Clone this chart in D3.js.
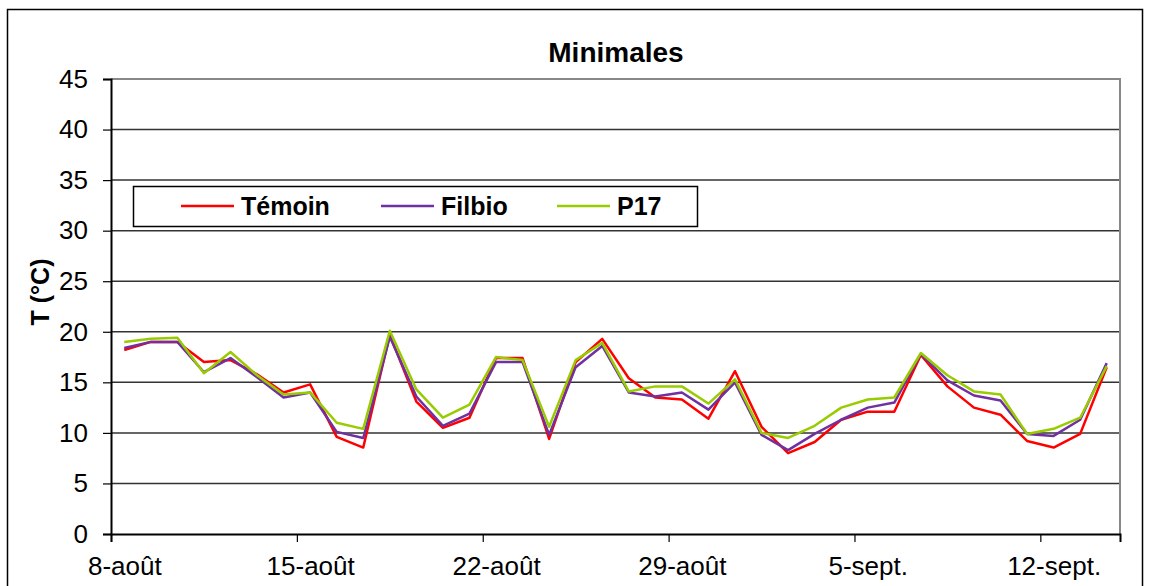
<!DOCTYPE html>
<html>
<head>
<meta charset="utf-8">
<script src="https://cdn.jsdelivr.net/npm/d3@7"></script>
<style>
  body { margin: 0; background: #fff; }
  svg { display: block; font-family: "Liberation Sans", Arial, sans-serif; }
</style>
</head>
<body>
<svg id="chart" width="1152" height="586"></svg>
<script>
// daily minima, 8-août .. 14-sept.
const temoin = [18.2, 19.0, 19.0, 17.0, 17.2, 15.8, 14.0, 14.8, 9.6, 8.55,
  19.7, 13.1, 10.5, 11.5, 17.4, 17.4, 9.4, 17.0, 19.3, 15.4,
  13.5, 13.3, 11.4, 16.1, 10.6, 8.0, 9.1, 11.3, 12.1, 12.1,
  17.7, 14.6, 12.5, 11.8, 9.2, 8.55, 9.9, 16.5];
const filbio = [18.4, 19.0, 19.0, 16.0, 17.4, 15.5, 13.5, 14.0, 10.1, 9.5,
  19.5, 13.6, 10.7, 11.9, 17.0, 17.0, 9.8, 16.5, 18.6, 14.0,
  13.6, 14.0, 12.3, 15.0, 9.8, 8.3, 9.9, 11.3, 12.5, 13.0,
  17.8, 15.2, 13.7, 13.2, 9.9, 9.7, 11.3, 16.9];
const p17 = [19.0, 19.3, 19.4, 15.9, 18.0, 15.7, 13.8, 14.0, 11.0, 10.4,
  20.1, 14.3, 11.5, 12.8, 17.5, 17.2, 10.6, 17.2, 18.9, 14.1,
  14.6, 14.6, 12.9, 15.3, 10.0, 9.5, 10.7, 12.5, 13.3, 13.5,
  17.9, 15.7, 14.1, 13.8, 9.9, 10.4, 11.5, 16.6];
const seriesNames = ["Témoin", "Filbio", "P17"];
const seriesColors = ["#ff0000", "#7030a0", "#99cc00"];
const xTickPos = [0, 7, 14, 21, 28, 35];
const xTickLabels = ["8-août", "15-août", "22-août", "29-août", "5-sept.", "12-sept."];
const yTicks = [0, 5, 10, 15, 20, 25, 30, 35, 40, 45];

const svg = d3.select("#chart");
const plotL = 111, plotR = 1120, plotT = 79, plotB = 534;
const FONT = "Liberation Sans, Arial, sans-serif";

// outer frame
svg.append("rect").attr("x", 7.5).attr("y", 9.5).attr("width", 1135).attr("height", 600)
  .attr("fill", "none").attr("stroke", "#000").attr("stroke-width", 1.5);

const x = d3.scaleLinear().domain([0, temoin.length]).range([plotL, plotR]);
const y = d3.scaleLinear().domain([0, 45]).range([plotB, plotT]);

// gridlines
svg.append("g").selectAll("line").data(yTicks.filter(d => d > 0 && d < 45)).enter()
  .append("line")
  .attr("x1", plotL).attr("x2", plotR)
  .attr("y1", d => y(d)).attr("y2", d => y(d))
  .attr("stroke", "#333").attr("stroke-width", 1.5);

// plot area border (top + right, gray)
svg.append("path")
  .attr("d", `M${plotL},${y(45)}H${plotR}V${plotB}`)
  .attr("fill", "none").attr("stroke", "#888").attr("stroke-width", 2);

// y axis
const yAxis = svg.append("g").attr("transform", `translate(${plotL},0)`)
  .call(d3.axisLeft(y).tickValues(yTicks).tickSize(8).tickPadding(15));
yAxis.select(".domain").attr("stroke", "#000").attr("stroke-width", 2);
yAxis.selectAll(".tick line").attr("stroke", "#000").attr("stroke-width", 1.2);
yAxis.selectAll("text").attr("font-size", 26).attr("fill", "#000").attr("font-family", FONT);

// x axis (labels sit in the middle of the day, ticks between days)
const xAxis = svg.append("g").attr("transform", `translate(0,${plotB})`)
  .call(d3.axisBottom(x).tickValues(xTickPos).tickFormat((d, i) => xTickLabels[i])
    .tickSizeOuter(0).tickSize(8).tickPadding(15));
xAxis.select(".domain").attr("stroke", "#000").attr("stroke-width", 2);
xAxis.selectAll(".tick line").attr("stroke", "#000").attr("stroke-width", 1.2);
xAxis.selectAll("text").attr("font-size", 26).attr("fill", "#000").attr("font-family", FONT)
  .attr("x", x(0.5) - x(0));

// lines
const line = d3.line().x((d, i) => x(i + 0.5)).y(d => y(d));
[temoin, filbio, p17].forEach((s, k) => {
  svg.append("path").datum(s)
    .attr("d", line)
    .attr("fill", "none")
    .attr("stroke", seriesColors[k])
    .attr("stroke-width", 2.5)
    .attr("stroke-linejoin", "round");
});

// title
svg.append("text").attr("x", 616).attr("y", 62).attr("text-anchor", "middle")
  .attr("font-size", 28).attr("font-weight", "bold").text("Minimales");

// y label
svg.append("text").attr("transform", "translate(49,292) rotate(-90)")
  .attr("text-anchor", "middle").attr("font-size", 25).attr("font-weight", "bold")
  .text("T (°C)");

// legend
const lg = svg.append("g");
lg.append("rect").attr("x", 133.5).attr("y", 186.5).attr("width", 564).attr("height", 40)
  .attr("fill", "#fff").attr("stroke", "#000").attr("stroke-width", 1.5);
const legX = [181, 381, 557];
seriesNames.forEach((n, k) => {
  lg.append("line").attr("x1", legX[k]).attr("x2", legX[k] + 53)
    .attr("y1", 206).attr("y2", 206)
    .attr("stroke", seriesColors[k]).attr("stroke-width", 2.5);
  lg.append("text").attr("x", legX[k] + 60).attr("y", 215)
    .attr("font-size", 25).attr("font-weight", "bold").text(n);
});
</script>
</body>
</html>
